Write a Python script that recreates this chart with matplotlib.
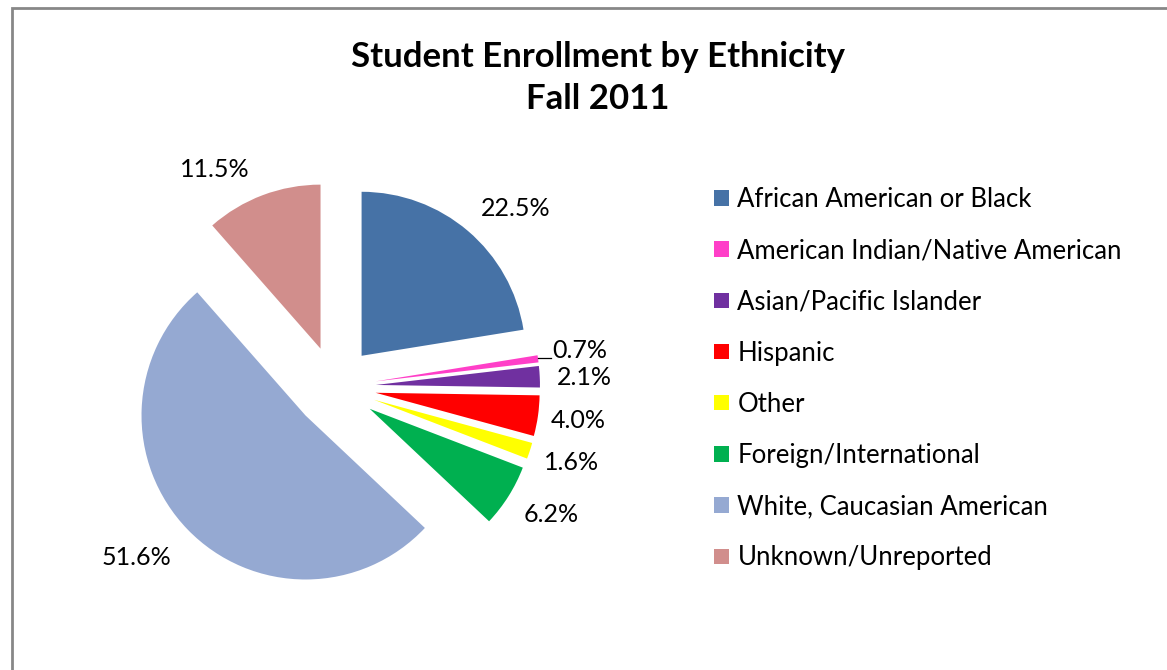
import numpy as np
import matplotlib.pyplot as plt
from matplotlib.patches import Patch, Rectangle

groups = ['African American or Black', 'American Indian/Native American',
          'Asian/Pacific Islander', 'Hispanic', 'Other',
          'Foreign/International', 'White, Caucasian American',
          'Unknown/Unreported']
shares = [22.5, 0.7, 2.1, 4.0, 1.6, 6.2, 51.6, 11.5]
colours = ['#4672A6', '#FF3FC8', '#7030A0', '#FF0000', '#FFFF00',
           '#00B050', '#95A9D2', '#D18E8C']

# extra shift of the percent labels (px, x right / y up), Excel "best fit"
label_nudge = [(19, -11), (0, 0), (0, -3), (-4, 2), (0, 2), (5, 5), (-19, 3), (-32, -16)]

plt.rcParams['font.family'] = ['Lato', 'DejaVu Sans']

W, H = 1167, 670
fig = plt.figure(figsize=(W / 100, H / 100), dpi=100)

# chart frame (only top and left edge visible in the crop)
fig.add_artist(Rectangle((12 / W, -0.1), 1.2, 1.1 - 8 / H, transform=fig.transFigure,
                         fill=False, edgecolor='#878787', linewidth=2))

R = 164  # pie radius in px
ax = fig.add_axes([35 / W, 33 / H, 600 / W, 500 / H])
wedges, texts, autotexts = ax.pie(
    shares, colors=colours, startangle=90, counterclock=False,
    explode=[0.25] * len(shares), autopct='%.1f%%', pctdistance=1.27,
    wedgeprops=dict(linewidth=0), textprops=dict(fontsize=18, color='black'))
for t, v, (nx, ny) in zip(autotexts, shares, label_nudge):
    t.set_text(f'{v:.1f}%')
    x, y = t.get_position()
    t.set_position((x + nx / R, y + ny / R))
ax.set_xlim(-300 / R, 300 / R)
ax.set_ylim(-250 / R, 250 / R)

# tiny slice: label pushed out, with a short leader line
small = autotexts[1]
x0, y0 = small.get_position()
th = np.deg2rad(90 - 360 * (shares[0] + shares[1] / 2) / sum(shares))
tip_x = 1.25 * np.cos(th)
lead_y = y0 - 0.03
ax.plot([tip_x, x0 - 0.19], [lead_y, lead_y], color='black', lw=0.9)
small.set_ha('left')
small.set_position((x0 - 0.183, y0 + 0.012))

fig.text(0.512, 1 - 78 / H, 'Student Enrollment by Ethnicity\nFall 2011',
         ha='center', va='center', fontsize=25, fontweight='bold', linespacing=1.39)

handles = [Patch(facecolor=c, edgecolor='none') for c in colours]
fig.legend(handles, groups, loc='upper left', bbox_to_anchor=(714 / W, 1 - 187 / H),
           frameon=False, fontsize=18.5, handlelength=0.58, handleheight=0.55,
           handletextpad=0.33, labelspacing=1.02, borderpad=0, borderaxespad=0)

fig.savefig('out.png', dpi=100, facecolor='white')
